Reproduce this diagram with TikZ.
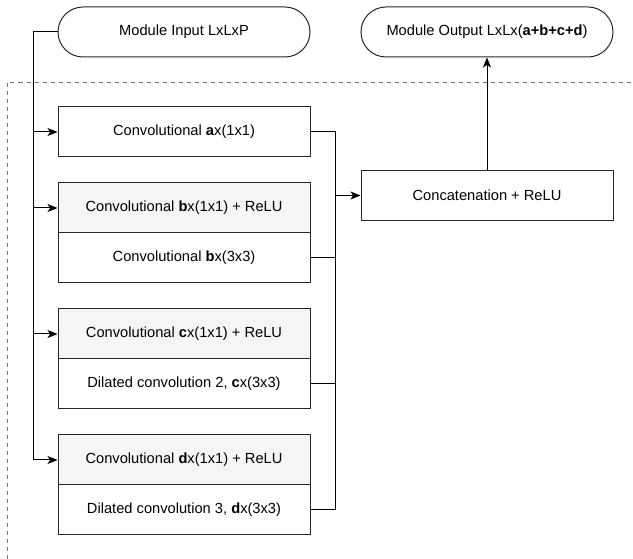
\documentclass[tikz,border=0pt]{standalone}
\usepackage{fontspec}
\setmainfont{Liberation Sans}
\usetikzlibrary{calc,arrows.meta}

\begin{document}
\begin{tikzpicture}[x=0.75pt,y=-0.75pt,>={Stealth[length=7.5pt,width=6pt,inset=2pt]},
  font=\fontsize{11}{13}\selectfont,
  box/.style={draw=black!85,line width=0.75pt,minimum width=189pt,minimum height=37.5pt,inner sep=0pt},
  relubox/.style={box,fill=black!4},
  term/.style={box,rounded corners=18.75pt}]
\useasboundingbox (0,0) rectangle (633,559);
% frame of the module
\draw[dashed,black!55,line width=0.5pt] (7.5,559) -- (7.5,82) -- (633,82);
% input and output
\node[term] (in) at (184,32) {Module Input LxLxP};
\node[term] (out) at (487,32) {Module Output LxLx(\textbf{a+b+c+d})};
% the four branches
\node[box] (a) at (184,132) {Convolutional \textbf{a}x(1x1)};
\node[relubox] (b1) at (184,208) {Convolutional \textbf{b}x(1x1) + ReLU};
\node[box] (b2) at (184,258) {Convolutional \textbf{b}x(3x3)};
\node[relubox] (c1) at (184,334) {Convolutional \textbf{c}x(1x1) + ReLU};
\node[box] (c2) at (184,384) {Dilated convolution 2, \textbf{c}x(3x3)};
\node[relubox] (d1) at (184,460) {Convolutional \textbf{d}x(1x1) + ReLU};
\node[box] (d2) at (184,510) {Dilated convolution 3, \textbf{d}x(3x3)};
\node[box] (cat) at (487,195.5) {Concatenation + ReLU};
% input bus
\coordinate (inbus) at (33,32);
\draw[line width=0.75pt,->] (in.west) -- (inbus) |- (d1.west);
\foreach \n in {a,b1,c1}
\draw[line width=0.75pt,->] (inbus |- \n.west) -- (\n.west);
% output bus
\coordinate (outbus) at (335,132);
\draw[line width=0.75pt] (a.east) -- (outbus) |- (d2.east);
\foreach \n in {b2,c2}
\draw[line width=0.75pt] (\n.east) -- (outbus |- \n.east);
\draw[line width=0.75pt,->] (outbus |- cat.west) -- (cat.west);
\draw[line width=0.75pt,->] (cat.north) -- (out.south);
\end{tikzpicture}
\end{document}
